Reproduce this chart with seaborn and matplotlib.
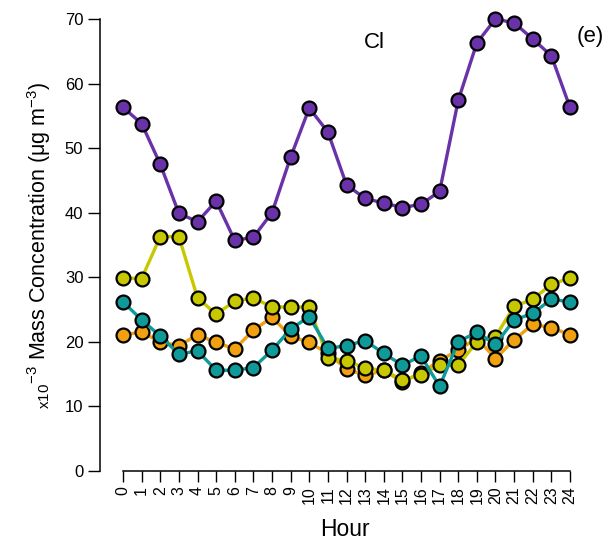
import numpy as np
import pandas as pd
import seaborn as sns
from matplotlib import pyplot as plt

# diurnal Cl mass concentration (x10^-3 ug m^-3), four series
hours = list(range(25))
purple = [56.3, 53.8, 47.5, 39.9, 38.6, 41.8, 35.7, 36.2, 40.0, 48.6, 56.2, 52.5, 44.3,
          42.2, 41.5, 40.8, 41.3, 43.3, 57.4, 66.3, 70.0, 69.4, 66.9, 64.3, 56.3]
yellow = [29.9, 29.8, 36.3, 36.3, 26.8, 24.3, 26.3, 26.8, 25.4, 25.4, 25.4, 17.5, 17.1,
          15.9, 15.6, 14.1, 14.9, 16.4, 16.4, 20.0, 20.8, 25.5, 26.6, 28.9, 29.9]
orange = [21.1, 21.5, 20.0, 19.4, 21.1, 19.9, 18.9, 21.8, 23.8, 20.9, 19.9, 18.2, 15.8,
          14.8, 15.6, 13.8, 15.2, 17.1, 18.7, 20.6, 17.4, 20.3, 22.7, 22.2, 21.1]
teal = [26.2, 23.4, 20.9, 18.1, 18.6, 15.6, 15.6, 16.0, 18.7, 22.0, 23.9, 19.0, 19.4,
        20.2, 18.2, 16.4, 17.8, 13.1, 20.0, 21.5, 19.6, 23.4, 24.4, 26.6, 26.2]

series_names = ['orange', 'yellow', 'teal', 'purple']
colors = ['#F0A010', '#C8C800', '#0F9A9A', '#6A32A8']

df = pd.DataFrame({
    'Hour': hours * 4,
    'conc': orange + yellow + teal + purple,
    'series': np.repeat(series_names, len(hours)),
})

plt.rcParams['font.family'] = ['Liberation Sans', 'DejaVu Sans']
plt.rcParams['mathtext.fontset'] = 'custom'
plt.rcParams['mathtext.rm'] = 'Liberation Sans'
plt.rcParams['mathtext.it'] = 'Liberation Sans'

fig = plt.figure(figsize=(6.08, 5.42), dpi=100)
ax = fig.add_axes([0.1645, 0.131, 0.822, 0.834])

sns.lineplot(data=df, x='Hour', y='conc', hue='series', hue_order=series_names,
             palette=colors, marker='o', markersize=10, markeredgecolor='black',
             markeredgewidth=1.6, linewidth=2.4, legend=False, ax=ax, clip_on=False)

ax.set_xlim(-1.235, 25.6)
ax.set_ylim(0, 70)
ax.set_xticks(hours)
ax.set_xticklabels([str(h) for h in hours], rotation=90, fontsize=11.5)
ax.set_yticks(range(0, 71, 10))
ax.tick_params(axis='y', labelsize=12, length=9, width=1, direction='out', pad=3)
ax.tick_params(axis='x', length=8, width=1, direction='out', pad=3)

for s in ['top', 'right']:
    ax.spines[s].set_visible(False)
ax.spines['left'].set_bounds(0, 70)
ax.spines['bottom'].set_bounds(0, 24)
ax.spines['left'].set_linewidth(1.1)
ax.spines['bottom'].set_linewidth(1.1)

ax.set_xlabel('Hour', fontsize=16.5)
ax.xaxis.set_label_coords(0.49, -0.105)
ax.set_ylabel(r'$_{\mathrm{x10}}$$^{-3}$ Mass Concentration ($\mathrm{\mu}$g m$^{-3}$)', fontsize=15.5)
ax.yaxis.set_label_coords(-0.095, 0.5)

ax.text(13.5, 66.4, 'Cl', fontsize=16, ha='center', va='center')
ax.text(25.1, 67.3, '(e)', fontsize=16, ha='center', va='center')

fig.savefig('out.png', dpi=100)
